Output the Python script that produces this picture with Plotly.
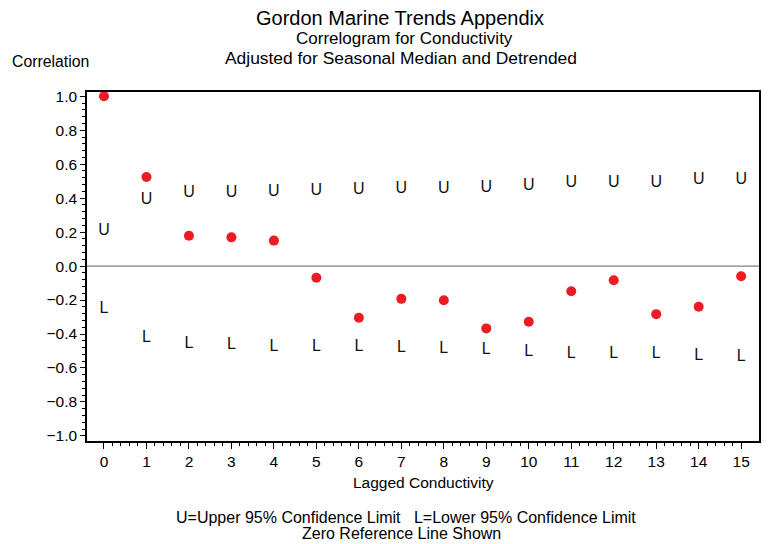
import plotly.graph_objects as go

lags = list(range(16))
corr = [1.0, 0.524, 0.179, 0.169, 0.150, -0.069, -0.304, -0.193, -0.201,
        -0.367, -0.328, -0.148, -0.083, -0.283, -0.240, -0.060]
upper = [0.208, 0.390, 0.433, 0.433, 0.437, 0.443, 0.447, 0.455, 0.456,
         0.461, 0.469, 0.490, 0.490, 0.490, 0.504, 0.508]
lower = [-0.250, -0.425, -0.461, -0.465, -0.474, -0.474, -0.474, -0.483, -0.489,
         -0.495, -0.507, -0.520, -0.520, -0.520, -0.530, -0.537]

W, H = 769, 544
OFF = 8  # page body margin
# plot box in page pixels
PL, PR, PT, PB = 87, 759, 92, 441
L, T = PL - OFF, PT - OFF
R, B = W - (PR - OFF), H - (PB - OFF)
PW, PH = PR - PL, PB - PT

def px(x):
    return (x - PL) / PW

def py(y):
    return (PB - y) / PH

FONT = "Liberation Sans, Arial, sans-serif"
SYM = "Liberation Sans Narrow, Liberation Sans, Arial, sans-serif"

fig = go.Figure()
fig.add_trace(go.Scatter(x=lags, y=upper, mode="text", text=["U"] * len(lags),
                         textposition="middle center",
                         textfont=dict(family=SYM, size=16, color="#111111"),
                         hoverinfo="skip", showlegend=False))
fig.add_trace(go.Scatter(x=lags, y=lower, mode="text", text=["L"] * len(lags),
                         textposition="middle center",
                         textfont=dict(family=SYM, size=16, color="#111111"),
                         hoverinfo="skip", showlegend=False))
fig.add_trace(go.Scatter(x=lags, y=corr, mode="markers",
                         marker=dict(size=10, color="#ec1c24"),
                         showlegend=False))

fig.add_hline(y=0, line=dict(color="#808080", width=1.2), layer="below")

minor_x = [round(i * 0.2, 1) for i in range(0, 76) if i % 5 != 0]

fig.update_xaxes(range=[-0.4, 15.42], tickmode="linear", tick0=0, dtick=1,
                 showgrid=False, zeroline=False, showline=True, linecolor="black",
                 linewidth=1.5, mirror=True, ticks="outside", ticklen=6,
                 tickcolor="black", tickwidth=1.3,
                 tickfont=dict(family=FONT, size=15.5, color="black"),
                 minor=dict(tickmode="array", tickvals=minor_x, ticks="outside",
                            ticklen=3, tickcolor="black", tickwidth=1.3, showgrid=False))
fig.update_yaxes(range=[-1.03, 1.025], tickmode="linear", tick0=0, dtick=0.2,
                 tickformat=".1f",
                 showgrid=False, zeroline=False, showline=True, linecolor="black",
                 linewidth=1.5, mirror=True, ticks="outside", ticklen=5,
                 tickcolor="black", tickwidth=1.3,
                 tickfont=dict(family=FONT, size=15.5, color="black"),
                 minor=dict(dtick=0.04, tick0=0, ticks="outside", ticklen=3,
                            tickcolor="black", tickwidth=1.3, showgrid=False))

ann = [
    ("Gordon Marine Trends Appendix", 400, 18, 20),
    ("Correlogram for Conductivity", 404, 38, 17),
    ("Adjusted for Seasonal Median and Detrended", 401, 58, 17.4),
    ("Correlation", 50, 62, 15.8),
    ("Lagged Conductivity", 423, 482, 15.5),
    ("U=Upper 95% Confidence Limit&nbsp;&nbsp;&nbsp;L=Lower 95% Confidence Limit", 406, 517, 16),
    ("Zero Reference Line Shown", 401, 533, 16),
]
annotations = [dict(text=t, x=px(x), y=py(y), xref="paper", yref="paper",
                    xanchor="center", yanchor="middle", showarrow=False,
                    font=dict(family=FONT, size=s, color="black"))
               for t, x, y, s in ann]

fig.update_layout(width=W, height=H, margin=dict(l=L, r=R, t=T, b=B, pad=0),
                  paper_bgcolor="white", plot_bgcolor="white",
                  annotations=annotations, font=dict(family=FONT))

fig.write_html("out.html")
